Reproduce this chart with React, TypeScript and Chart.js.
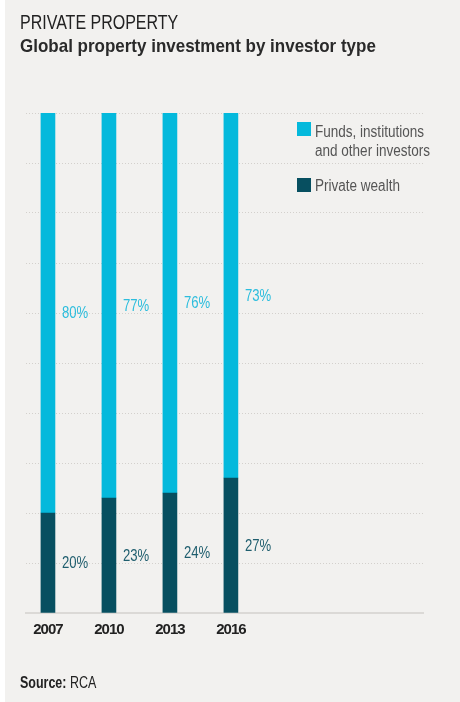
import React, { useEffect, useRef } from "react";
import { Chart, registerables } from "chart.js";

Chart.register(...registerables);

const years = ["2007", "2010", "2013", "2016"];
const funds = [80, 77, 76, 73];
const privateWealth = [20, 23, 24, 27];
const fundsLabel = ["Funds, institutions", "and other investors"];
const privateLabel = "Private wealth";

const CYAN = "#04b9dc";
const TEAL = "#074f60";
const FONT = "'Liberation Sans', Arial, sans-serif";

const valueLabels = {
  id: "valueLabels",
  afterDatasetsDraw(chart: any) {
    const ctx = chart.ctx;
    chart.data.datasets.forEach((ds: any, di: number) => {
      const meta = chart.getDatasetMeta(di);
      meta.data.forEach((el: any, i: number) => {
        const v = ds.data[i].y;
        ctx.save();
        ctx.letterSpacing = "0px";
        ctx.font = `16px ${FONT}`;
        ctx.textBaseline = "middle";
        ctx.textAlign = "left";
        ctx.fillStyle = di === 0 ? "#1f5e6e" : "#2cbddd";
        ctx.translate(el.x + el.width / 2 + 7, (el.y + el.base) / 2 + 1);
        ctx.scale(0.82, 1);
        ctx.fillText(`${v}%`, 0, 0);
        ctx.restore();
      });
    });
  },
};

const narrowTicks = {
  id: "narrowTicks",
  beforeDraw(chart: any) {
    chart.ctx.letterSpacing = "-1px";
  },
  afterDraw(chart: any) {
    chart.ctx.letterSpacing = "0px";
  },
};

export default function App() {
  const ref = useRef<HTMLCanvasElement>(null);
  useEffect(() => {
    document.body.style.margin = "0";
    const chart = new Chart(ref.current!, {
      type: "bar",
      data: {
        datasets: [
          {
            label: privateLabel,
            data: privateWealth.map((y, i) => ({ x: i, y })),
            backgroundColor: TEAL,
            barThickness: 14,
          },
          {
            label: fundsLabel.join(" "),
            data: funds.map((y, i) => ({ x: i, y })),
            backgroundColor: CYAN,
            barThickness: 14,
          },
        ],
      },
      options: {
        animation: false,
        responsive: false,
        devicePixelRatio: 1,
        layout: { padding: { left: 26, right: 37, top: 113, bottom: 0 } },
        plugins: { legend: { display: false }, tooltip: { enabled: false } },
        scales: {
          x: {
            type: "linear",
            stacked: true,
            offset: false,
            min: -0.36,
            max: 6.15,
            grid: { display: false, drawTicks: false },
            border: { display: true, color: "#dbd9d6", width: 2 },
            afterBuildTicks: (scale: any) => {
              scale.ticks = years.map((_, i) => ({ value: i }));
            },
            afterFit: (scale: any) => {
              scale.height = 89;
            },
            ticks: {
              padding: 8,
              color: "#222",
              font: { family: FONT, size: 15, weight: "bold" },
              callback: (v: any) => years[v] ?? "",
            },
          },
          y: {
            stacked: true,
            min: 0,
            max: 100,
            afterFit: (scale: any) => {
              scale.width = 0;
            },
            ticks: { display: false, stepSize: 10 },
            border: { display: false, dash: [1, 2] },
            grid: { color: "#d3d0cc", drawTicks: false, lineWidth: 1 },
          },
        },
      },
      plugins: [valueLabels, narrowTicks],
    } as any);
    return () => chart.destroy();
  }, []);

  const text = { fontFamily: FONT, transformOrigin: "left top", whiteSpace: "nowrap" as const };
  return (
    <div style={{ position: "relative", width: 460, height: 702, background: "#fff" }}>
      <div style={{ position: "absolute", left: 5, top: 0, width: 455, height: 702, background: "#f2f1ef" }} />
      <canvas ref={ref} width={460} height={702} style={{ position: "absolute", left: 0, top: 0 }} />
      <div style={{ ...text, position: "absolute", left: 20, top: 10, fontSize: 20.5, color: "#222", lineHeight: "24px", transform: "scaleX(0.78)" }}>
        PRIVATE PROPERTY
      </div>
      <div style={{ ...text, position: "absolute", left: 20, top: 34, fontSize: 19, fontWeight: "bold", color: "#2a2a2a", lineHeight: "24px", transform: "scaleX(0.894)" }}>
        Global property investment by investor type
      </div>
      <div style={{ position: "absolute", left: 297, top: 122 }}>
        <div style={{ width: 14, height: 14, background: CYAN }} />
        <div style={{ width: 14, height: 14, background: TEAL, marginTop: 42 }} />
      </div>
      <div style={{ ...text, position: "absolute", left: 315, top: 122, fontSize: 16, color: "#555", lineHeight: "19px", transform: "scaleX(0.845)" }}>
        {fundsLabel.map((l) => (
          <div key={l}>{l}</div>
        ))}
        <div style={{ marginTop: 16 }}>{privateLabel}</div>
      </div>
      <div style={{ ...text, position: "absolute", left: 20, top: 673, fontSize: 16, color: "#222", lineHeight: "20px", transform: "scaleX(0.78)" }}>
        <b>Source:</b> RCA
      </div>
    </div>
  );
}
